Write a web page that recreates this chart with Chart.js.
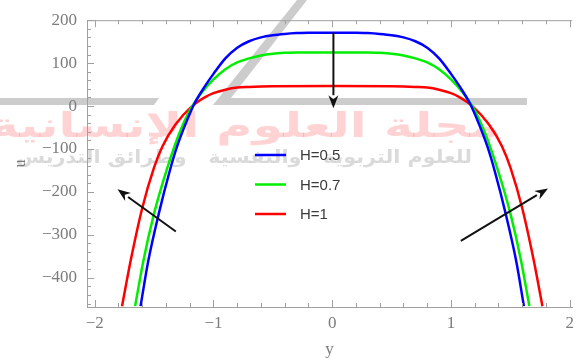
<!DOCTYPE html>
<html>
<head>
<meta charset="utf-8">
<script src="https://cdn.jsdelivr.net/npm/chart.js@4.4.0/dist/chart.umd.min.js"></script>
<style>
  html, body { margin: 0; padding: 0; background: #fff; }
  canvas { display: block; }
</style>
</head>
<body>
<canvas id="chart" width="580" height="362"></canvas>
<script>
// 曲线数据 (y, u)
const X_BLUE = [-1.614, -1.55, -1.46, -1.37, -1.31, -1.24, -1.16, -1.07, -1.0, -0.9, -0.8, -0.7, -0.6, -0.5, -0.4, -0.3, -0.2, 0,
                0.2, 0.3, 0.4, 0.5, 0.6, 0.7, 0.8, 0.9, 1.0, 1.07, 1.16, 1.24, 1.31, 1.37, 1.46, 1.55, 1.614];
const U_BLUE = [-466, -362, -250, -153, -97, -45, 6, 47, 75, 111, 136, 151, 160, 165, 168, 170, 171, 171,
                171, 170, 168, 165, 160, 151, 136, 111, 75, 47, 6, -45, -97, -153, -250, -362, -466];

const X_GREEN = [-1.66, -1.59, -1.5, -1.39, -1.28, -1.2, -1.16, -1.1, -1.0, -0.9, -0.8, -0.7, -0.6, -0.5, -0.4, -0.3, 0,
                 0.3, 0.4, 0.5, 0.6, 0.7, 0.8, 0.9, 1.0, 1.1, 1.16, 1.2, 1.28, 1.39, 1.5, 1.59, 1.66];
const U_GREEN = [-466, -360, -250, -145, -58, -10, 8, 31, 62, 86, 102, 111, 118, 122, 124, 125, 125,
                 125, 124, 122, 118, 111, 102, 86, 62, 31, 8, -10, -58, -145, -250, -360, -466];

const X_RED = [-1.77, -1.695, -1.6, -1.5, -1.43, -1.32, -1.18, -1.07, -1.0, -0.9, -0.8, -0.7, -0.6, -0.5, 0,
               0.5, 0.6, 0.7, 0.8, 0.9, 1.0, 1.07, 1.18, 1.32, 1.43, 1.5, 1.6, 1.695, 1.77];
const U_RED = [-466, -357, -238, -143, -94, -43, 0, 21, 30, 38, 43, 44.5, 45.5, 46, 47,
               46, 45.5, 44.5, 43, 38, 30, 21, 0, -43, -94, -143, -238, -357, -466];

const LABELS = ['H=0.5', 'H=0.7', 'H=1'];
const COLORS = ['#0000ff', '#00ee00', '#ff0000'];

// 刻度
const X_TICKS = [-2, -1, 0, 1, 2];
const Y_TICKS = [-400, -300, -200, -100, 0, 100, 200];

// 箭头 [y0, u0, y1, u1]，终点带箭头
const ARROWS = [
    [0.01, 171, 0.01, -5],
    [-1.317, -292, -1.808, -194],
    [1.083, -314, 1.817, -192]
];

const AXIS_COLOR = '#a0a0a0';
const TEXT_COLOR = '#7c7c7c';

function toPoints(xs, us) {
    return xs.map((x, i) => ({ x: x, y: us[i] }));
}

function fmt(v) {
    return String(v).replace('-', '\u2212');
}

// 背景水印
const watermarkPlugin = {
    id: 'watermark',
    beforeDraw(chart) {
        const ctx = chart.ctx;
        ctx.save();
        ctx.fillStyle = '#fff';
        ctx.fillRect(0, 0, chart.width, chart.height);

        ctx.fillStyle = 'rgba(195,195,195,0.85)';
        // 左侧横条
        ctx.beginPath();
        ctx.moveTo(0, 98); ctx.lineTo(159, 98); ctx.lineTo(154, 105); ctx.lineTo(0, 105);
        ctx.closePath(); ctx.fill();
        // 斜线 + 右侧横条
        ctx.beginPath();
        ctx.moveTo(297, 0); ctx.lineTo(307, 0); ctx.lineTo(231, 98);
        ctx.lineTo(527, 98); ctx.lineTo(527, 105); ctx.lineTo(213, 105);
        ctx.closePath(); ctx.fill();

        ctx.direction = 'rtl';
        ctx.textAlign = 'right';
        ctx.textBaseline = 'alphabetic';

        ctx.save();
        ctx.translate(500, 137);
        ctx.scale(1.45, 1);
        ctx.fillStyle = 'rgba(255,80,80,0.25)';
        ctx.font = 'bold 34px "DejaVu Sans"';
        ctx.fillText('مجلة العلوم الإنسانية', 0, 0);
        ctx.restore();

        ctx.save();
        ctx.translate(472, 163);
        ctx.scale(1.15, 1);
        ctx.fillStyle = 'rgba(150,150,150,0.35)';
        ctx.font = 'bold 18px "DejaVu Sans"';
        ctx.fillText('للعلوم التربوية   والنفسية   وطرائق التدريس', 0, 0);
        ctx.restore();

        ctx.restore();
    }
};

// 内侧刻度线、上边框、图例与箭头
const framePlugin = {
    id: 'frame',
    afterDraw(chart) {
        const ctx = chart.ctx;
        const xs = chart.scales.x, ys = chart.scales.y;
        const a = chart.chartArea;
        ctx.save();
        ctx.strokeStyle = AXIS_COLOR;
        ctx.lineWidth = 1;

        // 上边框
        ctx.beginPath();
        ctx.moveTo(a.left, a.top + 0.5); ctx.lineTo(a.right, a.top + 0.5);
        ctx.stroke();

        ctx.beginPath();
        for (let i = -10; i <= 10; i++) {
            const v = i / 5;
            const px = Math.round(xs.getPixelForValue(v)) + 0.5;
            const len = i % 5 === 0 ? 7 : 4;
            ctx.moveTo(px, a.bottom); ctx.lineTo(px, a.bottom - len);
            ctx.moveTo(px, a.top); ctx.lineTo(px, a.top + len);
        }
        for (let v = -460; v <= 200; v += 20) {
            const py = Math.round(ys.getPixelForValue(v)) + 0.5;
            const len = v % 100 === 0 ? 7 : 4;
            ctx.moveTo(a.left, py); ctx.lineTo(a.left + len, py);
        }
        ctx.stroke();

        // 图例
        ctx.font = '15px "Liberation Sans"';
        ctx.textBaseline = 'middle';
        ctx.fillStyle = '#3a3a3a';
        chart.data.datasets.forEach((ds, i) => {
            const y = 155 + i * 29.5;
            ctx.strokeStyle = ds.borderColor;
            ctx.lineWidth = 2.5;
            ctx.beginPath();
            ctx.moveTo(255, y); ctx.lineTo(286, y);
            ctx.stroke();
            ctx.fillText(ds.label, 300, y + 1);
        });

        // 箭头
        ctx.strokeStyle = '#111';
        ctx.fillStyle = '#111';
        ctx.lineWidth = 2;
        ARROWS.forEach(([x0, u0, x1, u1]) => {
            const p0 = [xs.getPixelForValue(x0), ys.getPixelForValue(u0)];
            const p1 = [xs.getPixelForValue(x1), ys.getPixelForValue(u1)];
            const ang = Math.atan2(p1[1] - p0[1], p1[0] - p0[0]);
            const hl = 13, hw = 5;
            const bx = p1[0] - hl * Math.cos(ang), by = p1[1] - hl * Math.sin(ang);
            ctx.beginPath();
            ctx.moveTo(p0[0], p0[1]); ctx.lineTo(bx, by);
            ctx.stroke();
            ctx.beginPath();
            ctx.moveTo(p1[0], p1[1]);
            ctx.lineTo(bx + hw * Math.sin(ang), by - hw * Math.cos(ang));
            ctx.lineTo(p1[0] - (hl - 4) * Math.cos(ang), p1[1] - (hl - 4) * Math.sin(ang));
            ctx.lineTo(bx - hw * Math.sin(ang), by + hw * Math.cos(ang));
            ctx.closePath();
            ctx.fill();
        });
        ctx.restore();
    }
};

function series(i, xs, us) {
    return {
        label: LABELS[i],
        data: toPoints(xs, us),
        borderColor: COLORS[i],
        borderWidth: 2.5,
        pointRadius: 0,
        fill: false,
        cubicInterpolationMode: 'monotone'
    };
}

const tickFont = { family: '"Liberation Serif"', size: 17 };

new Chart(document.getElementById('chart'), {
    type: 'line',
    data: {
        datasets: [
            series(0, X_BLUE, U_BLUE),
            series(1, X_GREEN, U_GREEN),
            series(2, X_RED, U_RED)
        ]
    },
    options: {
        responsive: false,
        animation: false,
        events: [],
        layout: { padding: { left: 0, right: 3, top: 13, bottom: 0 } },
        plugins: { legend: { display: false }, tooltip: { enabled: false } },
        scales: {
            x: {
                type: 'linear',
                min: -2.065,
                max: 2.02,
                afterBuildTicks: s => { s.ticks = X_TICKS.map(v => ({ value: v })); },
                afterFit: s => { s.height = 55; },
                grid: { display: false, drawTicks: false },
                border: { display: true, color: AXIS_COLOR, width: 1 },
                ticks: { font: tickFont, color: TEXT_COLOR, padding: 6, maxRotation: 0, callback: fmt },
                title: { display: true, text: 'y', font: { family: '"Liberation Serif"', size: 17 },
                         color: TEXT_COLOR, padding: { top: 0, bottom: 2 } }
            },
            y: {
                min: -468,
                max: 200,
                afterBuildTicks: s => { s.ticks = Y_TICKS.map(v => ({ value: v })); },
                afterFit: s => { s.width = 87; },
                grid: { display: false, drawTicks: false },
                border: { display: true, color: AXIS_COLOR, width: 1 },
                ticks: { font: tickFont, color: TEXT_COLOR, padding: 10, callback: fmt },
                title: { display: true, text: 'u', font: { family: '"Liberation Serif"', size: 16 },
                         color: TEXT_COLOR, padding: { top: 11, bottom: 0 } }
            }
        }
    },
    plugins: [watermarkPlugin, framePlugin]
});
</script>
</body>
</html>
